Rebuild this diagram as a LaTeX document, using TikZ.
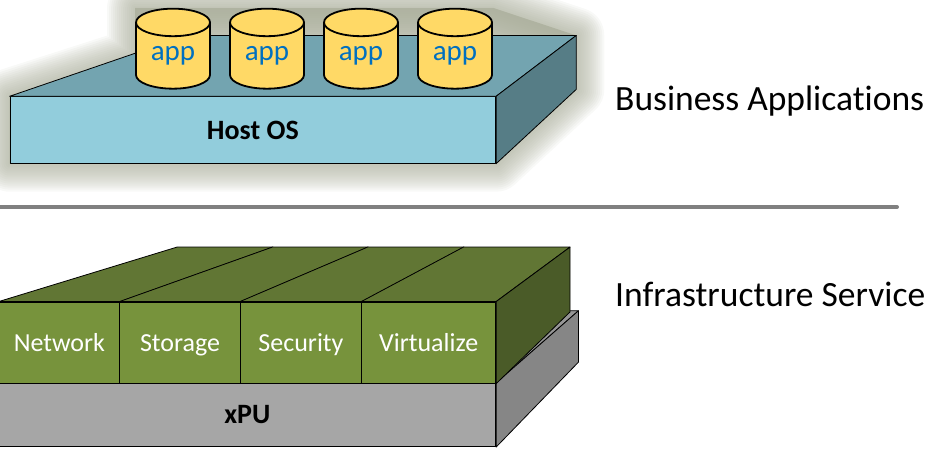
\documentclass[tikz,border=0pt]{standalone}
\usepackage{fontspec}
\setmainfont{Carlito}[Ligatures=NoCommon]
\usetikzlibrary{shapes.geometric, calc, backgrounds}

\definecolor{hostfront}{RGB}{146,205,220}
\definecolor{hosttop}{RGB}{115,164,176}
\definecolor{hostside}{RGB}{86,125,134}
\definecolor{appfill}{RGB}{255,217,102}
\definecolor{apptext}{RGB}{0,112,192}
\definecolor{offfront}{RGB}{119,147,60}
\definecolor{offtop}{RGB}{97,118,52}
\definecolor{offside}{RGB}{74,91,40}
\definecolor{xpufront}{RGB}{166,166,166}
\definecolor{xputop}{RGB}{150,150,150}
\definecolor{xpuside}{RGB}{134,134,134}
\definecolor{glowgray}{RGB}{166,170,150}
\definecolor{splitgray}{RGB}{128,128,128}

\begin{document}
\begin{tikzpicture}[x=1pt, y=-1pt,
    % Styles
    face/.style={draw=black, line width=0.8pt, line join=round},
    host node/.style={face, fill=hostfront, minimum width=485.7pt, minimum height=66.6pt, inner sep=0pt, font=\fontsize{28}{32}\selectfont\bfseries},
    app node/.style={cylinder, shape border rotate=90, draw=black, line width=1.8pt, fill=appfill, text=apptext, aspect=0.62, minimum width=74pt, minimum height=80pt, inner sep=0pt, font=\fontsize{29}{32}\selectfont},
    offload node/.style={face, fill=offfront, text=white, minimum height=81.3pt, inner sep=0pt, text height=18pt, text depth=0pt, font=\fontsize{26}{30}\selectfont},
    xpu node/.style={face, fill=xpufront, minimum width=496.7pt, minimum height=63.4pt, inner sep=0pt, font=\fontsize{28}{32}\selectfont\bfseries},
    glow line/.style={draw=glowgray, line width=#1, opacity=0.075, line join=round},
    layer label/.style={anchor=base west, inner sep=0pt, font=\fontsize{35.5}{40}\selectfont},
    split line/.style={draw=splitgray, line width=4pt, line cap=round}
]
\useasboundingbox (0,0) rectangle (931,448);
\clip (0,0) rectangle (931,448);

% Vanishing points of the three slabs
\coordinate (vh) at (897,-208);
\coordinate (vx) at (908,22);
\coordinate (vg) at (848,42);

% Host OS slab
\node[host node] (host) at (252.85,130) {Host OS};
\coordinate (htl) at ($(vh)!0.8!(host.north west)$);
\coordinate (htr) at ($(vh)!0.8!(host.north east)$);
\coordinate (hbr) at ($(vh)!0.8!(host.south east)$);
\draw[face, fill=hosttop] (host.north west) -- (host.north east) -- (htr) -- (htl) -- cycle;
\draw[face, fill=hostside] (host.north east) -- (htr) -- (hbr) -- (host.south east) -- cycle;

% Applications on top
\node[app node] (app1) at (173,56) {app};
\node[app node] (app2) at (267,56) {app};
\node[app node] (app3) at (361,56) {app};
\node[app node] (app4) at (455,56) {app};

% Soft glow around the upper layer
\begin{scope}[on background layer, shift={(2,5)}]
    \fill[glowgray, opacity=0.7] (host.south west) -- (host.north west) -- (app1.west) -- (app1.north -| app1.west) -- (app4.north -| app4.east) -- (htr) -- (hbr) -- (host.south east) -- cycle;
    \foreach \r in {2,4,...,28}
        \draw[glow line=2*\r pt] (host.south west) -- (host.north west) -- (app1.west) -- (app1.north -| app1.west) -- (app4.north -| app4.east) -- (htr) -- (hbr) -- (host.south east) -- cycle;
\end{scope}

% Split between the two layers
\coordinate (split west) at (-5,207);
\coordinate (split east) at (897,207);
\draw[split line] (split west) -- (split east);

% xPU slab
\node[xpu node] (xpu) at (247.35,415) {xPU};
\coordinate (xtl) at ($(vx)!0.8!(xpu.north west)$);
\coordinate (xtr) at ($(vx)!0.8!(xpu.north east)$);
\coordinate (xbr) at ($(vx)!0.8!(xpu.south east)$);
\draw[face, fill=xputop] (xpu.north west) -- (xpu.north east) -- (xtr) -- (xtl) -- cycle;
\draw[face, fill=xpuside] (xpu.north east) -- (xtr) -- (xbr) -- (xpu.south east) -- cycle;

% Offloaded services
\node[offload node, minimum width=120.8pt] (net) at (59.4,342.65) {Network};
\node[offload node, minimum width=120.5pt] (stor) at (180.05,342.65) {Storage};
\node[offload node, minimum width=121.3pt] (sec) at (300.95,342.65) {Security};
\node[offload node, minimum width=134.1pt] (virt) at (428.65,342.65) {Virtualize};
\foreach \s in {net,stor,sec,virt}
    \draw[face, fill=offtop] (\s.north west) -- (\s.north east) -- ($(vg)!0.79!(\s.north east)$) -- ($(vg)!0.79!(\s.north west)$) -- cycle;
\draw[face, fill=offside] (virt.north east) -- ($(vg)!0.79!(virt.north east)$) -- ($(vg)!0.79!(virt.south east)$) -- (virt.south east) -- cycle;

% Layer names
\node[layer label] (bizapps) at (615,110) {Business Applications};
\node[layer label] (infra) at (615,306) {Infrastructure Service};

\end{tikzpicture}
\end{document}
